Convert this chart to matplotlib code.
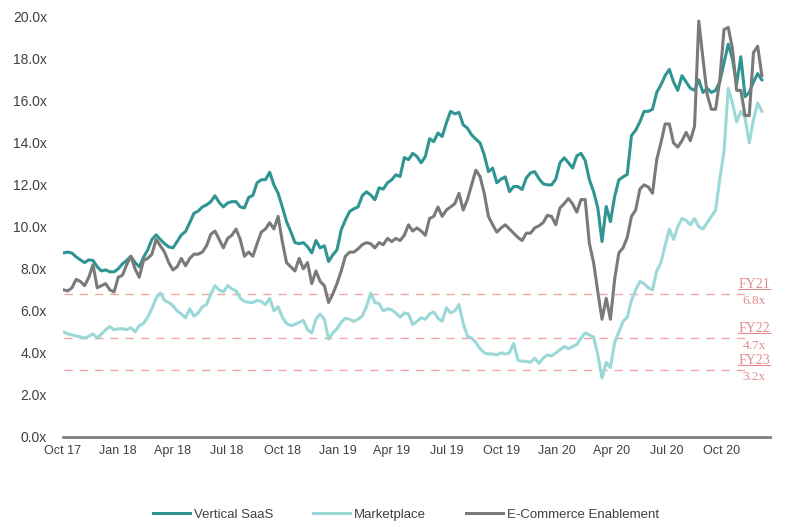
import numpy as np
import pandas as pd
import matplotlib
matplotlib.use("Agg")
import matplotlib.pyplot as plt
import matplotlib.dates as mdates
from matplotlib.lines import Line2D

plt.rcParams['font.family'] = ['Liberation Sans', 'DejaVu Sans']

# weekly observations, Oct 2017 - Dec 2020
dates = pd.date_range('2017-10-02', periods=167, freq='7D')

vertical_saas = [
    8.76, 8.80, 8.75, 8.57, 8.43, 8.30, 8.43, 8.40, 8.10, 7.90, 7.95, 7.86, 7.86,
    8.00, 8.24, 8.40, 8.60, 8.30, 8.10, 8.55, 8.90, 9.40, 9.62, 9.40, 9.20, 9.05,
    9.00, 9.30, 9.62, 9.78, 10.20, 10.65, 10.75, 10.95, 11.05, 11.20, 11.48, 11.16, 10.95,
    11.14, 11.20, 11.20, 10.95, 10.90, 11.40, 11.50, 12.10, 12.24, 12.25, 12.60, 12.00, 11.60,
    10.95, 10.25, 9.78, 9.25, 9.20, 9.25, 9.06, 8.76, 9.35, 9.00, 9.10, 8.35, 8.67,
    8.90, 9.86, 10.33, 10.73, 10.86, 10.95, 11.48, 11.67, 11.52, 11.29, 11.86, 11.80, 12.10,
    12.24, 12.48, 12.40, 13.30, 13.20, 13.50, 13.35, 13.05, 13.35, 14.20, 14.06, 14.47, 14.30,
    14.95, 15.50, 15.38, 15.45, 14.86, 14.70, 14.38, 14.18, 14.00, 13.43, 12.63, 12.80, 12.10,
    12.27, 12.38, 11.68, 11.92, 11.92, 11.78, 12.33, 12.57, 12.63, 12.30, 12.05, 12.00, 12.00,
    12.27, 13.05, 13.29, 13.06, 12.80, 13.38, 13.50, 13.16, 12.24, 11.68, 10.90, 9.30, 10.97,
    10.25, 11.44, 12.24, 12.38, 12.50, 14.35, 14.60, 15.00, 15.50, 15.50, 15.60, 16.40, 16.76,
    17.20, 17.50, 16.90, 16.50, 17.20, 16.90, 16.60, 16.50, 17.00, 16.40, 16.60, 16.40, 16.50,
    16.90, 17.80, 18.70, 18.00, 16.80, 18.10, 16.20, 16.40, 16.90, 17.30, 17.00,
]

marketplace = [
    5.00, 4.90, 4.86, 4.80, 4.76, 4.70, 4.80, 4.90, 4.70, 4.90, 5.10, 5.25, 5.10,
    5.15, 5.15, 5.10, 5.20, 5.00, 5.30, 5.40, 5.70, 6.10, 6.60, 6.85, 6.50, 6.40,
    6.25, 6.00, 5.85, 5.67, 6.10, 5.75, 5.90, 6.20, 6.30, 6.80, 7.20, 7.00, 6.90,
    7.20, 7.05, 6.95, 6.60, 6.45, 6.40, 6.40, 6.50, 6.45, 6.30, 6.60, 6.00, 6.20,
    5.70, 5.40, 5.30, 5.35, 5.45, 5.55, 5.10, 4.95, 5.60, 5.85, 5.60, 4.65, 4.95,
    5.15, 5.45, 5.65, 5.60, 5.50, 5.60, 5.75, 6.20, 6.85, 6.40, 6.35, 6.00, 6.10,
    6.05, 5.90, 5.70, 5.90, 5.85, 5.35, 5.50, 5.67, 5.60, 5.85, 5.95, 5.65, 5.50,
    6.15, 5.90, 6.00, 6.30, 5.40, 4.80, 4.70, 4.50, 4.20, 4.00, 3.95, 3.95, 3.90,
    4.00, 3.95, 4.00, 4.45, 3.65, 3.60, 3.60, 3.55, 3.75, 3.50, 3.75, 3.90, 3.85,
    4.00, 4.15, 4.30, 4.20, 4.30, 4.40, 4.70, 4.95, 4.85, 4.75, 3.90, 2.80, 3.55,
    3.30, 4.50, 5.00, 5.50, 5.70, 6.50, 7.00, 7.40, 7.30, 7.10, 7.00, 7.90, 8.30,
    9.10, 9.90, 9.40, 10.00, 10.40, 10.30, 10.10, 10.40, 10.00, 9.90, 10.20, 10.50, 10.80,
    12.30, 13.60, 16.60, 15.90, 15.00, 15.50, 15.20, 14.00, 15.10, 15.90, 15.50,
]

ecommerce = [
    7.00, 6.95, 7.10, 7.50, 7.40, 7.20, 7.60, 8.20, 7.10, 7.20, 7.30, 7.00, 6.90,
    7.60, 7.70, 8.20, 8.60, 8.00, 7.60, 8.40, 8.50, 8.70, 9.40, 9.10, 8.80, 8.30,
    7.95, 8.10, 8.50, 8.15, 8.50, 8.70, 8.70, 8.80, 9.10, 9.65, 9.80, 9.40, 9.00,
    9.45, 9.60, 9.90, 9.40, 8.60, 8.80, 8.60, 9.20, 9.75, 9.90, 10.20, 9.90, 10.50,
    9.30, 8.30, 8.10, 7.90, 8.50, 8.00, 8.30, 7.30, 7.90, 7.40, 7.20, 6.40, 6.80,
    7.30, 7.90, 8.60, 8.80, 8.80, 8.95, 9.15, 9.25, 9.20, 9.00, 9.25, 9.15, 9.45,
    9.30, 9.45, 9.35, 9.60, 10.10, 9.80, 9.95, 9.80, 9.60, 10.40, 10.50, 10.95, 10.50,
    10.80, 10.95, 11.10, 11.60, 10.80, 11.30, 12.00, 12.70, 12.40, 11.60, 10.50, 10.10, 9.75,
    9.95, 10.10, 9.90, 9.70, 9.50, 9.35, 9.70, 9.70, 9.95, 10.05, 10.20, 10.55, 10.50,
    10.10, 10.90, 11.10, 11.35, 11.10, 10.70, 11.30, 11.30, 9.20, 8.30, 6.90, 5.60, 6.60,
    5.60, 7.50, 8.76, 9.00, 9.50, 10.50, 10.80, 11.80, 12.00, 11.90, 11.60, 13.20, 14.00,
    14.90, 14.90, 14.00, 13.80, 14.10, 14.50, 14.10, 14.80, 19.80, 18.00, 16.30, 15.60, 15.60,
    17.00, 19.40, 19.50, 18.50, 16.50, 16.50, 15.30, 15.30, 18.30, 18.60, 17.20,
]

fy_names = ['FY21', 'FY22', 'FY23']
fy_values = [6.8, 4.7, 3.2]

fig = plt.figure(figsize=(7.87, 5.27), dpi=100)
ax = fig.add_axes([0.080, 0.171, 0.898, 0.797])

ax.plot(dates, vertical_saas, color='#2f9592', lw=2.2, label='Vertical SaaS', zorder=3)
ax.plot(dates, marketplace, color='#9bd8d8', lw=2.2, label='Marketplace', zorder=2)
ax.plot(dates, ecommerce, color='#7a7a7a', lw=2.2, label='E-Commerce Enablement', zorder=4)

# valuation reference lines
line_end = pd.Timestamp('2020-11-10')
label_x = pd.Timestamp('2020-11-24')
fy_texts = []
for name, v in zip(fy_names, fy_values):
    ax.plot([dates[0], line_end], [v, v], color='#f2a5a5', lw=1.0,
            dashes=(6, 5), zorder=1)
    t = ax.text(label_x, v + 0.45, name, color='#e08c8c', ha='center',
                va='center', fontsize=10, family='Liberation Serif')
    fy_texts.append(t)
    ax.text(label_x, v - 0.35, '%.1fx' % v, color='#e08c8c', ha='center',
            va='center', fontsize=9.5, family='Liberation Serif')

ax.set_ylim(0, 20)
ax.set_yticks(np.arange(0, 21, 2))
ax.set_yticklabels(['%.1fx' % t for t in np.arange(0, 21, 2)])
ax.set_xlim(pd.Timestamp('2017-10-01'), pd.Timestamp('2020-12-20'))
ax.xaxis.set_major_locator(mdates.MonthLocator(bymonth=[1, 4, 7, 10]))
ax.xaxis.set_major_formatter(mdates.DateFormatter('%b %y'))

for s in ['top', 'right', 'left']:
    ax.spines[s].set_visible(False)
ax.spines['bottom'].set_color('#808080')
ax.spines['bottom'].set_linewidth(2)
ax.tick_params(axis='both', length=0, colors='#404040')
ax.tick_params(axis='y', pad=11.5, labelsize=10)
ax.tick_params(axis='x', pad=6, labelsize=9)

fig.legend(loc='center', bbox_to_anchor=(0.516, 0.023), ncol=3, frameon=False,
           fontsize=9.5, handlelength=2.8, handletextpad=0.3, columnspacing=3.0,
           labelcolor='#404040')

# underline the FY labels
fig.canvas.draw()
r = fig.canvas.get_renderer()
inv = fig.transFigure.inverted()
for t in fy_texts:
    bb = t.get_window_extent(r)
    (x0, y0), (x1, _) = inv.transform([(bb.x0, bb.y0 + 2), (bb.x1, bb.y0 + 2)])
    fig.add_artist(Line2D([x0, x1], [y0, y0], color='#e08c8c', lw=0.8))

fig.savefig('out.png', dpi=100)
